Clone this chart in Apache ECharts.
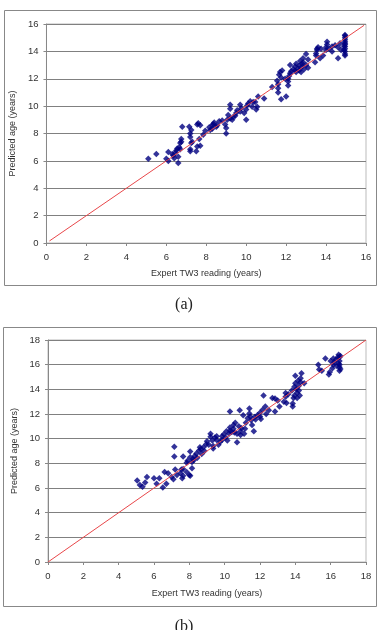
<!DOCTYPE html>
<html>
<head>
<meta charset="utf-8">
<script src="https://cdn.jsdelivr.net/npm/echarts@6/dist/echarts.min.js"></script>
<style>
  html, body { margin: 0; padding: 0; background: #fff; }
  #main { width: 378px; height: 630px; }
</style>
</head>
<body>
<div id="main"></div>
<script>

/********** 数据 (a) ********** */
var xA = [5.1,5.5,6.0,6.1,6.1,6.3,6.35,6.4,6.45,6.5,6.55,6.6,6.6,6.65,6.7,6.7,6.75,6.75,7.2,7.2,
  7.25,7.3,7.5,7.55,7.7,7.2,7.2,7.25,7.15,7.55,7.6,7.7,6.8,7.65,7.85,7.95,8.15,8.2,8.3,8.3,
  8.35,8.4,8.5,8.55,8.65,8.8,9.0,9.0,8.95,9.05,9.1,9.2,9.2,9.2,9.3,9.35,9.45,9.5,9.55,9.7,
  9.7,9.75,9.9,10.0,10.0,10.05,10.1,10.2,10.3,10.35,10.45,10.5,10.55,10.6,10.9,11.3,11.6,11.6,11.6,11.55,
  11.65,11.7,11.75,11.8,11.75,12.0,11.95,12.1,12.1,12.1,12.15,12.2,12.25,12.2,12.35,12.45,12.45,12.5,12.5,12.6,
  12.65,12.65,12.7,12.75,12.8,12.8,12.85,12.85,12.9,13.0,13.0,13.1,13.1,13.45,13.5,13.5,13.55,13.55,13.6,13.7,
  13.75,13.85,14.0,14.0,14.05,14.05,14.15,14.3,14.3,14.45,14.6,14.6,14.7,14.75,14.95,14.95,14.95,14.95,14.95,14.95,
  14.95,14.95,14.95,14.95,14.95,14.95,14.9,14.9];
var yA = [6.15,6.5,6.15,6.0,6.65,6.5,6.4,6.2,6.6,6.75,6.9,5.85,6.3,7.0,6.85,7.3,7.4,7.6,6.7,6.85,
  7.3,7.4,6.7,7.05,7.1,7.75,8.0,8.25,8.5,8.65,8.75,8.6,8.5,7.6,7.9,8.2,8.45,8.25,8.35,8.6,
  8.7,8.8,8.5,8.6,8.9,8.95,8.0,8.4,8.65,9.0,9.35,9.1,9.8,10.1,9.0,9.2,9.3,9.5,9.7,9.6,
  10.1,9.85,9.5,9.0,9.75,10.05,10.2,10.35,9.95,10.3,10.3,9.75,9.95,10.7,10.55,11.4,11.3,11.0,11.6,11.85,
  12.3,12.5,12.1,12.6,10.5,10.7,12.0,11.5,11.8,12.0,12.2,12.4,12.55,13.0,12.7,12.6,12.9,12.5,13.1,12.75,
  12.6,12.95,13.3,12.5,12.9,13.1,13.2,13.5,12.7,13.0,13.8,12.8,13.4,13.2,13.7,13.85,14.1,14.2,14.3,13.5,
  14.2,13.7,14.1,14.3,14.5,14.7,14.2,14.0,14.35,14.45,13.5,14.3,14.6,14.1,13.7,13.8,14.0,14.2,14.35,14.5,
  14.7,14.85,15.0,15.15,15.2,14.6,14.4,14.1];
var lineA = [[0.15, 0.15], [15.9, 15.9]];

/********** 数据 (b) ********** */
var xB = [5.05,5.2,5.35,5.5,5.6,6.0,6.15,6.3,6.5,6.7,6.6,6.8,7.0,7.1,7.2,7.3,7.5,7.55,7.6,7.65,
  7.85,8.0,8.05,8.15,7.15,7.15,7.65,7.65,7.85,7.9,8.05,8.05,8.15,8.2,8.25,8.3,8.4,8.45,8.55,8.6,
  8.65,8.7,8.8,8.85,8.95,9.0,9.1,9.2,9.2,9.3,9.35,9.35,9.45,9.55,9.55,9.65,9.75,9.85,9.85,9.95,
  10.05,10.1,10.15,10.25,10.3,10.3,10.3,10.4,10.5,10.5,10.55,10.6,10.7,10.7,10.8,10.85,10.9,10.9,10.95,11.05,
  11.1,11.15,11.2,11.3,11.4,11.4,11.45,11.5,11.55,11.65,11.7,11.75,11.85,12.0,12.0,12.05,12.15,12.2,12.3,12.35,
  12.5,12.7,12.85,12.85,13.0,13.1,13.35,13.45,13.45,13.5,13.6,13.8,13.85,13.85,13.9,13.95,13.95,14.0,14.0,14.05,
  14.1,14.1,14.15,14.2,14.2,14.25,14.3,14.3,14.35,14.5,15.3,15.35,15.5,15.7,15.9,15.95,16.0,16.1,16.15,16.15,
  16.2,16.3,16.35,16.4,16.45,16.45,16.5,16.5,16.5,16.5,16.5,16.55,16.55];
var yB = [6.6,6.25,6.1,6.45,6.9,6.8,6.35,6.8,6.05,6.35,7.3,7.2,6.9,6.7,7.5,7.05,7.2,7.5,6.8,7.0,
  7.3,7.05,7.0,7.6,9.35,8.55,8.55,7.55,8.05,8.2,8.5,8.95,8.1,8.35,8.25,8.6,8.8,8.45,9.05,9.3,
  9.15,8.75,9.3,9.0,9.55,9.8,9.5,10.4,10.15,9.85,9.2,9.4,10.1,9.9,10.2,9.5,9.75,10.2,9.9,10.35,
  10.1,10.6,9.85,10.4,10.65,10.9,12.2,10.55,11.1,10.8,10.5,11.3,9.7,10.4,11.0,12.3,10.3,10.6,10.85,11.9,
  10.4,10.8,11.3,11.65,12.45,12.05,11.8,11.5,11.1,10.6,11.75,11.55,11.9,11.8,12.1,11.6,12.35,13.5,12.6,12.0,
  12.3,13.3,13.25,12.2,13.1,12.6,13.0,13.7,13.4,12.9,13.6,13.9,12.85,12.6,13.3,14.2,13.5,15.1,14.5,14.0,
  13.7,13.3,14.7,14.3,13.9,13.5,14.9,14.6,15.3,14.5,16.0,15.6,15.5,16.5,15.2,15.4,16.3,15.7,16.5,16.0,
  16.2,16.4,15.9,16.6,16.8,16.1,15.5,15.8,16.0,16.3,16.6,16.7,15.65];
var lineB = [[0, 0], [18, 18]];

function pairs(xs, ys){
    var out = [];
    for (var i = 0; i < xs.length; i++) out.push([xs[i], ys[i]]);
    return out;
}

var myChart = echarts.init(document.getElementById("main"));

var labelFont = { fontFamily: "Liberation Sans", fontSize: 9, color: "#333" };
var tickFont = { fontFamily: "Liberation Sans", fontSize: 9.5, color: "#333" };

function xAx(idx, max, gap){
    return {
        type: "value", gridIndex: idx, min: 0, max: max, interval: 2,
        name: "Expert TW3 reading (years)", nameLocation: "middle", nameGap: gap,
        nameTextStyle: labelFont,
        axisLine: { show: true, lineStyle: { color: "#888", width: 1 } },
        axisTick: { show: true, length: 3, lineStyle: { color: "#888" } },
        axisLabel: Object.assign({ margin: 9 }, tickFont),
        splitLine: { show: false }
    };
}
function yAx(idx, max, gap){
    return {
        type: "value", gridIndex: idx, min: 0, max: max, interval: 2,
        name: "Predicted age (years)", nameLocation: "middle", nameGap: gap,
        nameTextStyle: labelFont,
        axisLine: { show: true, lineStyle: { color: "#888", width: 1 } },
        axisTick: { show: true, length: 3, lineStyle: { color: "#888" } },
        axisLabel: Object.assign({ margin: 8 }, tickFont),
        splitLine: { show: true, lineStyle: { color: "#808080", width: 1 } }
    };
}

var option = {
    animation: false,
    grid: [
        { left: 46, top: 24, width: 320, height: 219, show: true, borderColor: "#bbb", borderWidth: 1 },
        { left: 48, top: 340, width: 318, height: 222, show: true, borderColor: "#bbb", borderWidth: 1 }
    ],
    xAxis: [ xAx(0, 16, 26), xAx(1, 18, 27) ],
    yAxis: [ yAx(0, 16, 22), yAx(1, 18, 26) ],
    graphic: [
        { type: "rect", shape: { x: 4.5, y: 10.5, width: 372, height: 275 },
          style: { fill: "none", stroke: "#888", lineWidth: 1 }, silent: true, z: -1 },
        { type: "rect", shape: { x: 3.5, y: 327.5, width: 373, height: 279 },
          style: { fill: "none", stroke: "#888", lineWidth: 1 }, silent: true, z: -1 },
        { type: "text", x: 184, y: 305,
          style: { text: "(a)", font: "16px 'Liberation Serif'", fill: "#222", align: "center", verticalAlign: "middle" } },
        { type: "text", x: 184, y: 627,
          style: { text: "(b)", font: "16px 'Liberation Serif'", fill: "#222", align: "center", verticalAlign: "middle" } }
    ],
    series: [
        { type: "scatter", xAxisIndex: 0, yAxisIndex: 0, data: pairs(xA, yA),
          symbol: "diamond", symbolSize: 6.5, itemStyle: { color: "#000080" } },
        { type: "line", xAxisIndex: 0, yAxisIndex: 0, data: lineA, symbol: "none",
          lineStyle: { color: "#e8474a", width: 1 }, z: 3 },
        { type: "scatter", xAxisIndex: 1, yAxisIndex: 1, data: pairs(xB, yB),
          symbol: "diamond", symbolSize: 6.5, itemStyle: { color: "#000080" } },
        { type: "line", xAxisIndex: 1, yAxisIndex: 1, data: lineB, symbol: "none",
          lineStyle: { color: "#e8474a", width: 1 }, z: 3 }
    ]
};

myChart.setOption(option);
</script>
</body>
</html>
